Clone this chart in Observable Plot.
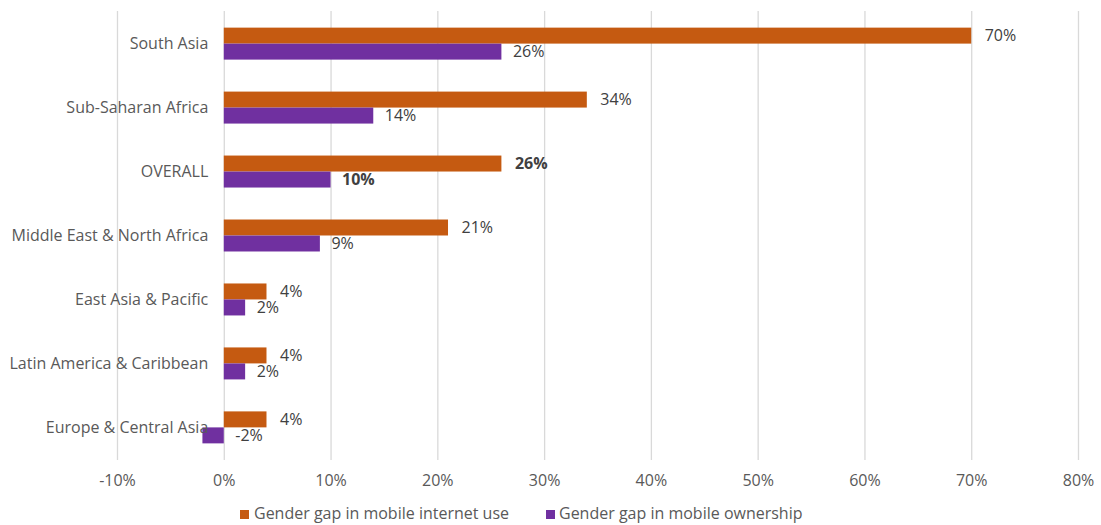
<!DOCTYPE html>
<html>
<head>
<meta charset="utf-8">
<script src="https://cdn.jsdelivr.net/npm/d3@7"></script>
<script src="https://cdn.jsdelivr.net/npm/@observablehq/plot@0.6"></script>
<style>
  body { margin: 0; background: #fff; font-family: "Open Sans", sans-serif; }
  #wrap { position: relative; width: 1101px; height: 525px; }
  .lg { position: absolute; font-size: 16px; color: #595959; line-height: 20px; top: 503px; white-space: nowrap; }
  .sw { position: absolute; width: 9px; height: 9px; top: 510px; }
</style>
</head>
<body>
<div id="wrap"></div>
<script>
const regions = ["South Asia", "Sub-Saharan Africa", "OVERALL", "Middle East & North Africa", "East Asia & Pacific", "Latin America & Caribbean", "Europe & Central Asia"];
const internetGap = [70, 34, 26, 21, 4, 4, 4];
const ownershipGap = [26, 14, 10, 9, 2, 2, -2];
const xTicks = [-10, 0, 10, 20, 30, 40, 50, 60, 70, 80];
const seriesNames = ["Gender gap in mobile internet use", "Gender gap in mobile ownership"];
const colors = ["#C55A11", "#7030A0"];

const internet = regions.map((r, i) => ({region: r, value: internetGap[i]}));
const ownership = regions.map((r, i) => ({region: r, value: ownershipGap[i]}));
const bold = d => d.region === "OVERALL";
const normal = d => d.region !== "OVERALL";
const lx = d => Math.max(0, d.value);
const lt = d => d.value + "%";

const chart = Plot.plot({
  width: 1101,
  height: 495,
  marginLeft: 117,
  marginRight: 23,
  marginTop: 11,
  marginBottom: 35,
  style: {fontFamily: "Open Sans, sans-serif", fontSize: "16px", color: "#595959"},
  x: {domain: [-10, 80]},
  y: {domain: regions, paddingInner: 0.5, paddingOuter: 0.26, round: false, axis: null},
  marks: [
    Plot.gridX(xTicks, {stroke: "#d9d9d9", strokeOpacity: 1, strokeWidth: 1.3}),
    Plot.axisX({ticks: xTicks, tickFormat: d => d + "%", tickSize: 0, tickPadding: 14, fill: "#595959", fontSize: 16, label: null}),
    Plot.barX(internet, {x: "value", y: "region", fill: colors[0], insetBottom: 16}),
    Plot.barX(ownership, {x: "value", y: "region", fill: colors[1], insetTop: 16}),
    Plot.text(internet, {filter: normal, x: lx, y: "region", text: lt, dy: -8, dx: 13, textAnchor: "start", fill: "#404040", fontSize: 16}),
    Plot.text(internet, {filter: bold, x: lx, y: "region", text: lt, dy: -8, dx: 13, textAnchor: "start", fill: "#404040", fontSize: 16, fontWeight: "bold"}),
    Plot.text(ownership, {filter: normal, x: lx, y: "region", text: lt, dy: 8, dx: 11, textAnchor: "start", fill: "#404040", fontSize: 16}),
    Plot.text(ownership, {filter: bold, x: lx, y: "region", text: lt, dy: 8, dx: 11, textAnchor: "start", fill: "#404040", fontSize: 16, fontWeight: "bold"}),
    Plot.text(regions, {x: () => 0, y: d => d, text: d => d, dx: -16, textAnchor: "end", fill: "#595959", fontSize: 16})
  ]
});

const wrap = document.getElementById("wrap");
wrap.appendChild(chart);
const legendPos = [{sw: 240, tx: 254}, {sw: 546, tx: 559}];
seriesNames.forEach((name, i) => {
  const s = document.createElement("div");
  s.className = "sw";
  s.style.left = legendPos[i].sw + "px";
  s.style.background = colors[i];
  wrap.appendChild(s);
  const t = document.createElement("div");
  t.className = "lg";
  t.style.left = legendPos[i].tx + "px";
  t.textContent = name;
  wrap.appendChild(t);
});
</script>
</body>
</html>
